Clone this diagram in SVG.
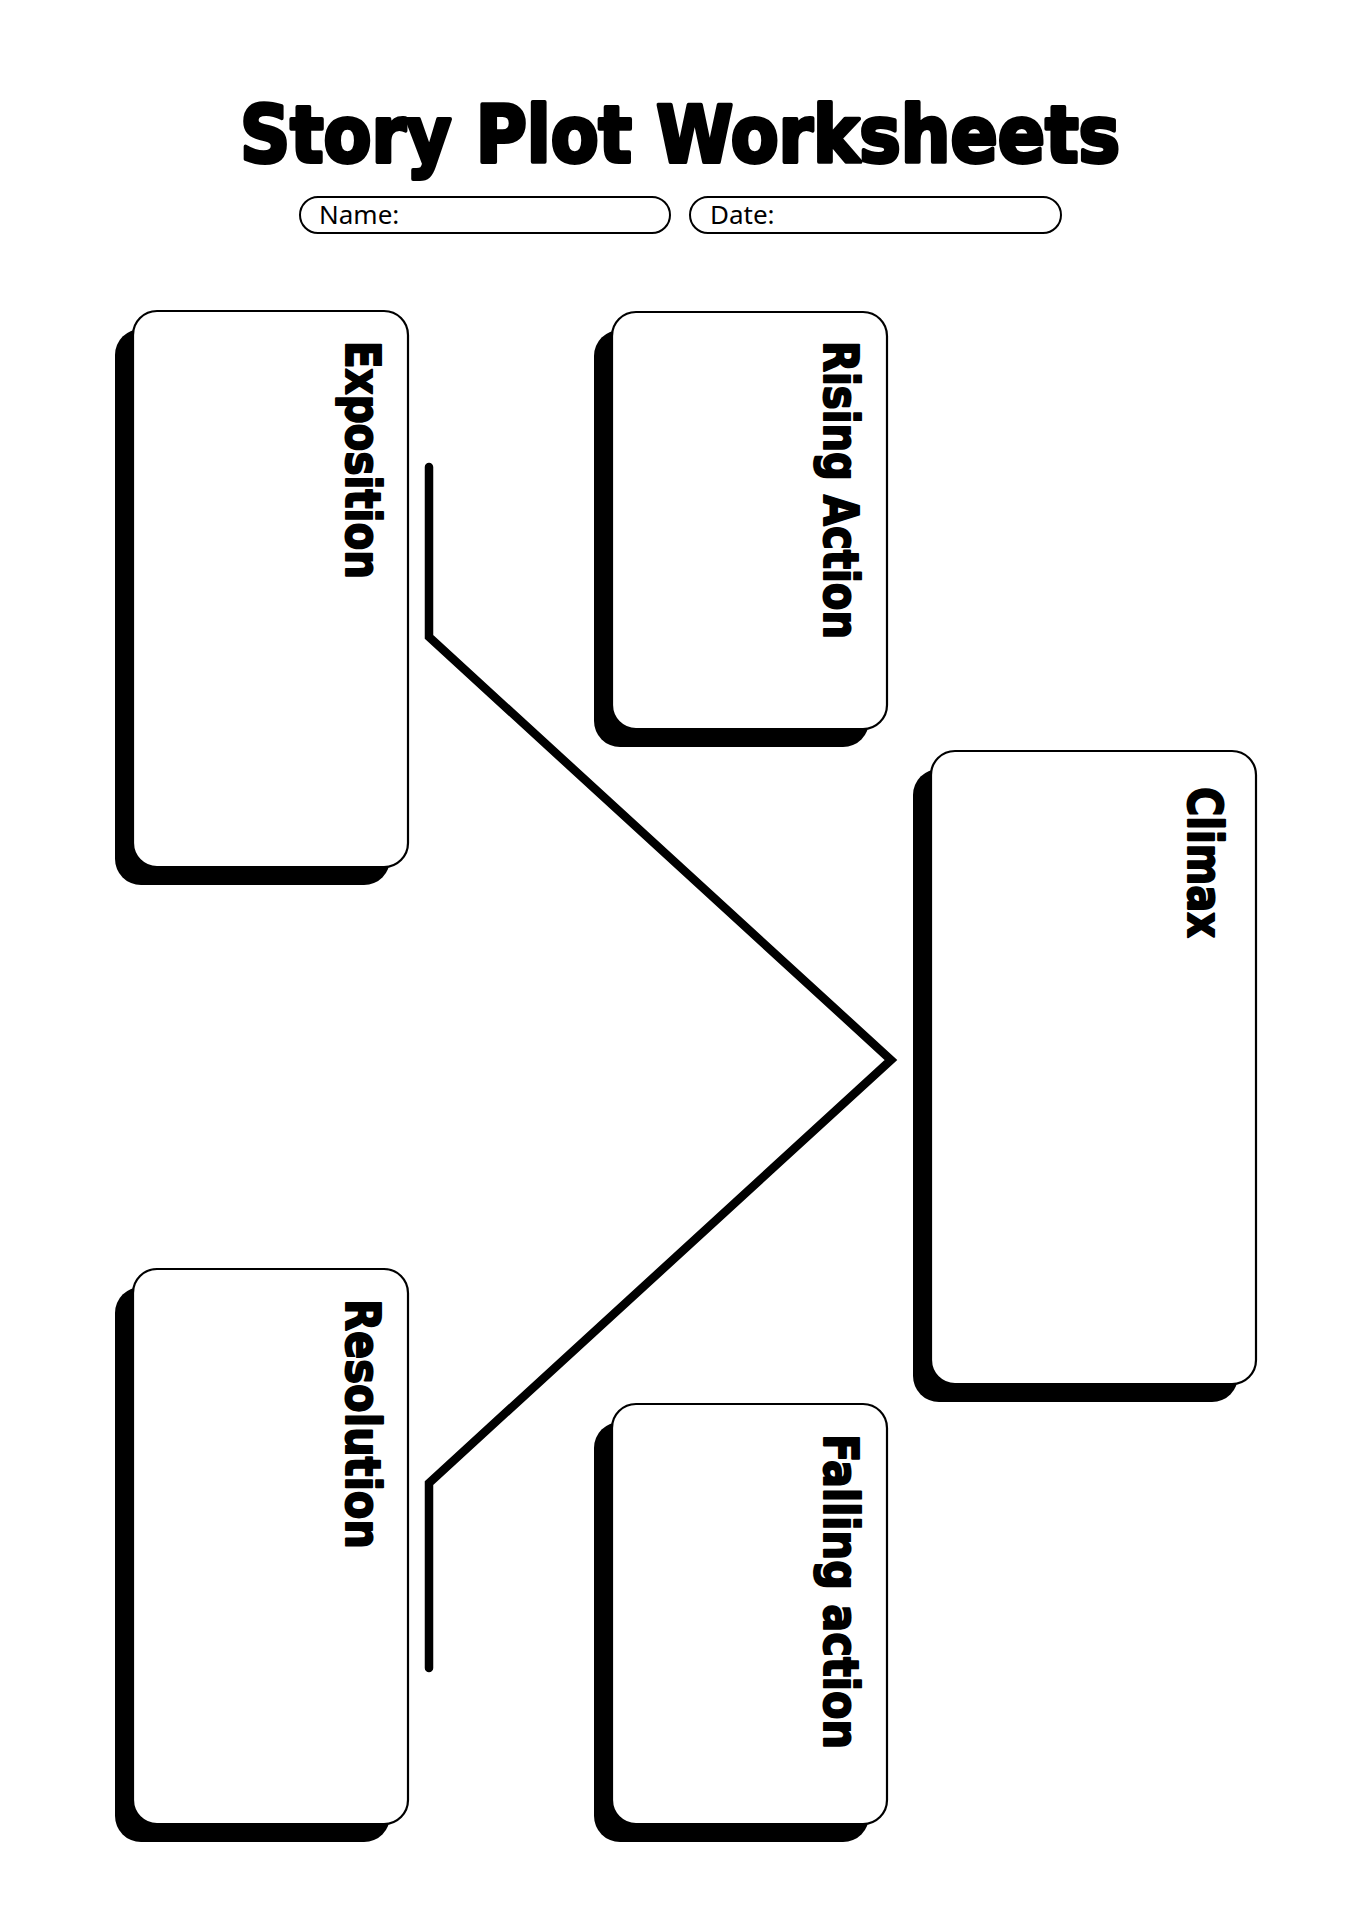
<svg xmlns="http://www.w3.org/2000/svg" width="1358" height="1920" viewBox="0 0 1358 1920">
<style>
.title{font-family:"DejaVu Sans","Liberation Sans",sans-serif;font-weight:bold;font-size:78px;fill:#000;stroke:#000;stroke-width:4;stroke-linejoin:round}
.field{fill:#fff;stroke:#000;stroke-width:2}
.ftext{font-family:"Noto Sans","Liberation Sans",sans-serif;font-size:26px;fill:#000}
.shadow{fill:#000}
.card{fill:#fff;stroke:#000;stroke-width:2.2}
.label{font-family:"DejaVu Sans","Liberation Sans",sans-serif;font-weight:bold;font-size:48px;fill:#000;stroke:#000;stroke-width:2;stroke-linejoin:round}
.plot{fill:none;stroke:#000;stroke-width:8.5;stroke-linecap:round;stroke-linejoin:miter}
</style>
<rect width="1358" height="1920" fill="#fff"/>
<g id="header">
<text class="title" x="680" y="162" text-anchor="middle" textLength="880" lengthAdjust="spacingAndGlyphs">Story Plot Worksheets</text>
<rect class="field" x="300" y="197" width="370" height="36" rx="18"/>
<text class="ftext" x="319" y="224">Name:</text>
<rect class="field" x="690" y="197" width="371" height="36" rx="18"/>
<text class="ftext" x="710" y="224">Date:</text>
</g>
<g id="connectors">
<polyline class="plot" points="429,467 429,637 891,1060 429,1483 429,1668"/>
</g>
<g id="exposition">
<rect class="shadow" x="115" y="329" width="275" height="556" rx="26"/>
<rect class="card" x="133" y="311" width="275" height="556" rx="24"/>
<text class="label" x="346" y="341" transform="rotate(90 346 341)" textLength="238" lengthAdjust="spacingAndGlyphs">Exposition</text>
</g>
<g id="rising-action">
<rect class="shadow" x="594" y="330" width="275" height="417" rx="26"/>
<rect class="card" x="612" y="312" width="275" height="417" rx="24"/>
<text class="label" x="824" y="341" transform="rotate(90 824 341)" textLength="298" lengthAdjust="spacingAndGlyphs">Rising Action</text>
</g>
<g id="climax">
<rect class="shadow" x="913" y="769" width="325" height="633" rx="26"/>
<rect class="card" x="931" y="751" width="325" height="633" rx="24"/>
<text class="label" x="1188" y="787" transform="rotate(90 1188 787)" textLength="151" lengthAdjust="spacingAndGlyphs">Climax</text>
</g>
<g id="resolution">
<rect class="shadow" x="115" y="1287" width="275" height="555" rx="26"/>
<rect class="card" x="133" y="1269" width="275" height="555" rx="24"/>
<text class="label" x="346" y="1299" transform="rotate(90 346 1299)" textLength="250" lengthAdjust="spacingAndGlyphs">Resolution</text>
</g>
<g id="falling-action">
<rect class="shadow" x="594" y="1422" width="275" height="420" rx="26"/>
<rect class="card" x="612" y="1404" width="275" height="420" rx="24"/>
<text class="label" x="824" y="1434" transform="rotate(90 824 1434)" textLength="315" lengthAdjust="spacingAndGlyphs">Falling action</text>
</g>
</svg>
